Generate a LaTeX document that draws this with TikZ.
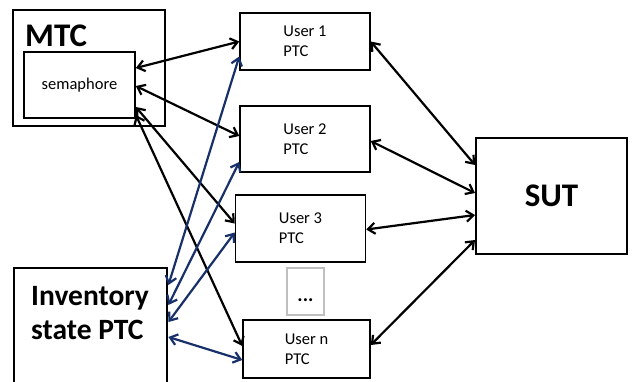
\documentclass[tikz,border=0pt]{standalone}
\usepackage{fontspec}
\setmainfont{Carlito}
\usetikzlibrary{arrows.meta}
\definecolor{linkblue}{RGB}{24,48,105}

\begin{document}
\begin{tikzpicture}[
  x=1pt, y=-1pt,
  box/.style={rectangle, draw, line width=1.5pt, font=\fontsize{16.5}{20}\selectfont, align=left},
  bigbox/.style={rectangle, draw, line width=2pt},
  title/.style={inner sep=0pt, font=\fontsize{33}{34}\selectfont\bfseries, align=left},
  link/.style={{Straight Barb[length=7pt,width=11pt]}-{Straight Barb[length=7pt,width=11pt]}, line width=2.2pt},
  invlink/.style={link, draw=linkblue}
]
\useasboundingbox (0,0) rectangle (634,381);

% MTC with its semaphore
\node[bigbox, line width=2.8pt, minimum width=152, minimum height=116] (mtc) at (89,68) {};
\node[title, anchor=base west] (mtc-label) at (25,46) {MTC};
\node[box, line width=1.7pt, minimum width=111, minimum height=66] (sem) at (79.5,85) {semaphore};

% Inventory PTC
\node[bigbox, line width=2.4pt, minimum width=153, minimum height=130, anchor=north west] (inv) at (13,267) {};
\node[title, font=\fontsize{29.5}{34}\selectfont\bfseries, anchor=north west] (inv-label) at (31,286) {Inventory\\state PTC};

% User PTCs
\node[box, minimum width=130, minimum height=57] (user1) at (305,41.5) {User 1\\PTC};
\node[box, minimum width=130, minimum height=66] (user2) at (305,139) {User 2\\PTC};
\node[box, minimum width=130, minimum height=67] (user3) at (300.5,228.5) {User 3\\PTC};
\node[box, draw=black!25, minimum width=37, minimum height=47, text height=22pt, text depth=3pt, font=\fontsize{20}{20}\selectfont\bfseries] (dots) at (305.5,291.5) {...};
\node[box, minimum width=127, minimum height=58] (usern) at (306.5,349) {User n\\PTC};

% System under test
\node[bigbox, line width=2pt, minimum width=151, minimum height=116, font=\fontsize{33}{33}\selectfont\bfseries] (sut) at (551.5,196) {SUT};

% semaphore to users
\draw[link] ([yshift=17pt]sem.east) -- (user1.west);
\draw[link] ([yshift=-1pt]sem.east) -- ([yshift=3pt]user2.west);
\draw[link] ([yshift=-22pt]sem.east) -- ([yshift=5pt]user3.west);
\draw[link] ([yshift=-30pt]sem.east) -- ([yshift=3pt]usern.west);

% users to SUT
\draw[link] (user1.east) -- ([yshift=31pt]sut.west);
\draw[link] ([yshift=-2pt]user2.east) -- ([yshift=3pt]sut.west);
\draw[link] ([yshift=-1pt]user3.east) -- ([yshift=-19pt]sut.west);
\draw[link] ([yshift=4pt]usern.east) -- ([yshift=-44pt]sut.west);

% inventory to users
\draw[invlink] ([yshift=-18pt]inv.north east) -- ([yshift=-15pt]user1.west);
\draw[invlink] ([yshift=-38pt]inv.north east) -- ([yshift=-23pt]user2.west);
\draw[invlink] ([yshift=-55pt]inv.north east) -- ([yshift=-4pt]user3.west);
\draw[invlink] ([yshift=-70pt]inv.north east) -- ([yshift=-11pt]usern.west);

\end{tikzpicture}
\end{document}
